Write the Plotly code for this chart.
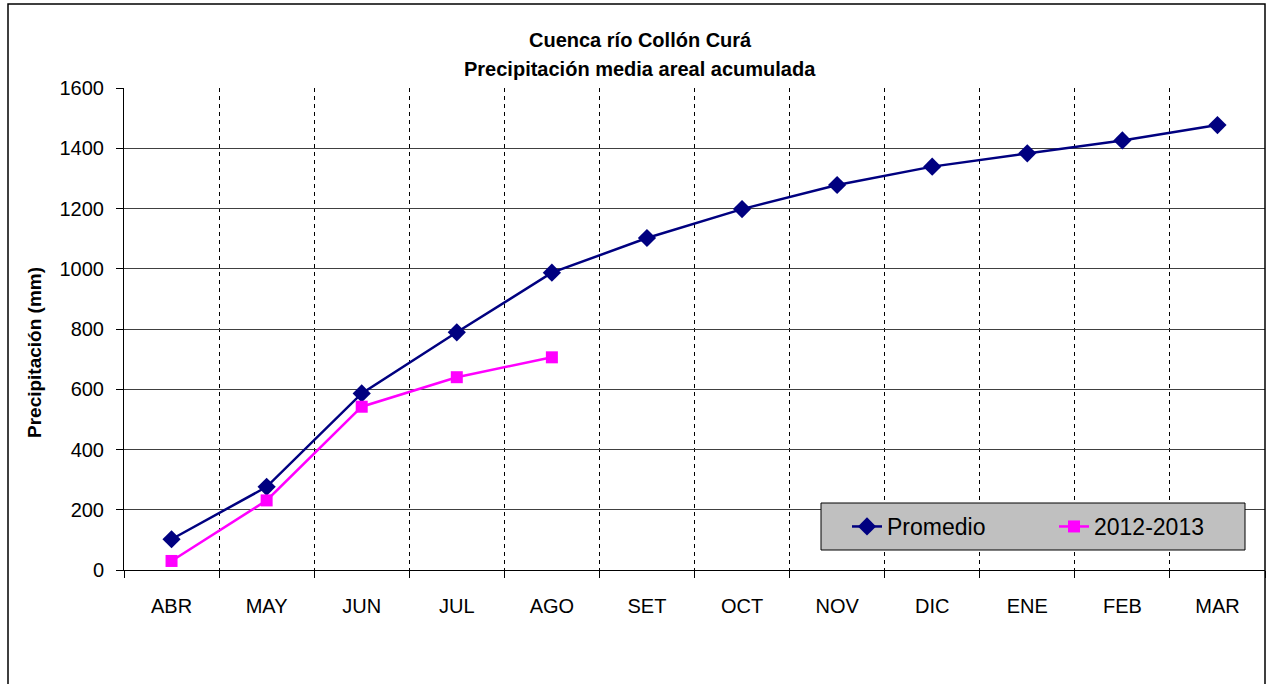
import plotly.graph_objects as go

# Monthly cumulative areal precipitation (mm), hydrological year April-March
months = ["ABR", "MAY", "JUN", "JUL", "AGO", "SET", "OCT", "NOV", "DIC", "ENE", "FEB", "MAR"]
promedio = [102, 276, 586, 789, 987, 1102, 1198, 1278, 1339, 1383, 1426, 1477]
season_2012_2013 = [30, 231, 542, 640, 706]
y_ticks = [0, 200, 400, 600, 800, 1000, 1200, 1400, 1600]

FONT = "Arial, Liberation Sans, sans-serif"
W, H = 1268, 684
L, R, T, B = 124, 3, 88, 114
plot_w = W - L - R
plot_h = H - T - B


def px_x(x):
    return (x - L) / plot_w


def px_y(y):
    return (H - B - y) / plot_h


fig = go.Figure()
fig.add_trace(go.Scatter(
    x=months, y=promedio, name="Promedio", mode="lines+markers",
    line=dict(color="#000080", width=2.5),
    marker=dict(symbol="diamond", size=14, color="#000080"),
))
fig.add_trace(go.Scatter(
    x=months[:len(season_2012_2013)], y=season_2012_2013, name="2012-2013",
    mode="lines+markers",
    line=dict(color="#FF00FF", width=2.5),
    marker=dict(symbol="square", size=12, color="#FF00FF"),
))

fig.update_layout(
    width=W, height=H,
    margin=dict(l=L, r=R, t=T, b=B, pad=0),
    paper_bgcolor="white", plot_bgcolor="white",
    font=dict(family=FONT, size=20, color="black"),
    showlegend=True,
    legend=dict(
        orientation="h", x=px_x(847), y=px_y(526.5), xanchor="left", yanchor="middle",
        bgcolor="rgba(0,0,0,0)", borderwidth=0,
        font=dict(family=FONT, size=23, color="black"),
        entrywidth=162, entrywidthmode="pixels",
    ),
    xaxis=dict(
        type="category", categoryorder="array", categoryarray=months,
        range=[-0.5, len(months) - 0.5],
        tickson="boundaries", ticks="outside", ticklen=7, tickcolor="black",
        showgrid=True, gridcolor="black", griddash="4px,4px", gridwidth=1,
        showline=True, linecolor="black", linewidth=1,
        ticklabelstandoff=18,
        tickfont=dict(family=FONT, size=20, color="black"),
        zeroline=False,
    ),
    yaxis=dict(
        range=[0, 1600], tickvals=y_ticks,
        ticks="outside", ticklen=7, tickcolor="black",
        showgrid=True, gridcolor="#404040", gridwidth=1,
        showline=True, linecolor="black", linewidth=1,
        tickfont=dict(family=FONT, size=20, color="black"),
        ticklabelstandoff=8,
        zeroline=False,
    ),
    annotations=[
        dict(text="<b>Cuenca río Collón Curá</b>", xref="paper", yref="paper",
             x=px_x(640), y=px_y(40), xanchor="center", yanchor="middle",
             showarrow=False, font=dict(family=FONT, size=20, color="black")),
        dict(text="<b>Precipitación media areal acumulada</b>", xref="paper", yref="paper",
             x=px_x(640), y=px_y(69), xanchor="center", yanchor="middle",
             showarrow=False, font=dict(family=FONT, size=20, color="black")),
        dict(text="<b>Precipitación (mm)</b>", xref="paper", yref="paper",
             x=px_x(34), y=px_y(353), xanchor="center", yanchor="middle",
             textangle=-90, showarrow=False,
             font=dict(family=FONT, size=19, color="black")),
    ],
    shapes=[
        # legend panel
        dict(type="rect", xref="paper", yref="paper",
             x0=px_x(821), x1=px_x(1245), y0=px_y(550), y1=px_y(503),
             line=dict(color="black", width=1), fillcolor="#C0C0C0",
             layer="above"),
        # outer chart frame
        dict(type="rect", xref="paper", yref="paper",
             x0=px_x(8), x1=px_x(1265), y0=px_y(700), y1=px_y(4),
             line=dict(color="black", width=1.5), fillcolor="rgba(0,0,0,0)",
             layer="above"),
    ],
)

fig.write_html("out.html")
